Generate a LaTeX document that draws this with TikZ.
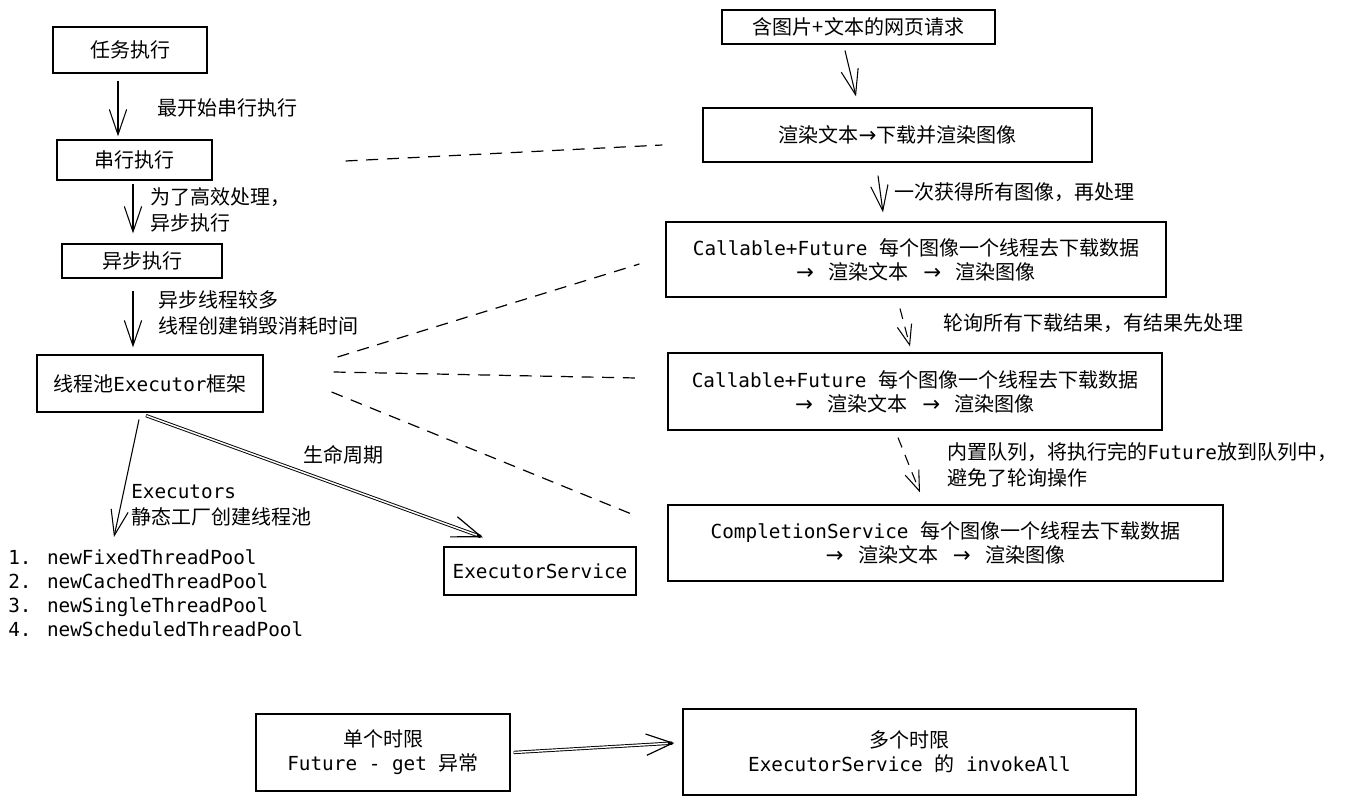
\documentclass[tikz,border=0pt]{standalone}
\usepackage{fontspec}
\setmainfont{Noto Sans CJK SC}
\newfontfamily\monofont[Scale=0.967]{DejaVu Sans Mono}
\newfontfamily\symfont{DejaVu Sans}
\newcommand\mono[1]{{\monofont #1}}
\newcommand\ra{{\symfont\fontsize{16}{18}\selectfont →}}
\newcommand\gap{\hspace{11pt}}
\usetikzlibrary{arrows.meta,calc}

\begin{document}
\begin{tikzpicture}[x=0.75pt,y=-0.75pt,
  every node/.style={font=\fontsize{15}{18}\selectfont},
  box/.style={draw, line width=0.9pt, inner sep=0pt, align=center},
  wh/.style 2 args={minimum width=#1*0.75pt, minimum height=#2*0.75pt},
  lbl/.style={anchor=west, align=left, inner sep=0pt, font=\fontsize{15}{19.5}\selectfont},
  arr/.style={line width=0.8pt, -{Straight Barb[length=19pt,width=13pt,line width=0.8pt]}},
  darr/.style={line width=0.8pt, dash pattern=on 8pt off 6pt,
    -{Straight Barb[length=15pt,width=11pt,line width=0.8pt]}},
  % a hollow (double) shaft: thick black stroke with a white core laid over it
  dblarr/.style={line width=2.5pt, -{Straight Barb[length=#1,width=16pt,line width=0.9pt]},
    postaction={draw=white, line width=1.1pt, -, shorten >=5pt, shorten <=0.4pt}},
  dblarr/.default=22pt,
  link/.style={line width=0.9pt, dash pattern=on 9pt off 6.5pt}
]
\useasboundingbox (0,0) rectangle (1347,805);

% left column: from serial execution to the Executor framework
\node[box, wh={154}{46}] (b1) at (130,50) {任务执行};
\node[box, wh={155}{40}] (b2) at (134.5,160) {串行执行};
\node[box, wh={160}{34}] (b3) at (142,261) {异步执行};
\node[box, wh={226}{57}] (b4) at (150,383.5) {线程池\mono{Executor}框架};
\node[box, wh={192}{48}] (b5) at (540,571) {\mono{ExecutorService}};
\node[anchor=north west, inner sep=0pt, align=left,
      font=\monofont\fontsize{15}{18}\selectfont] (pools) at (8,549)
  {1. newFixedThreadPool\\2. newCachedThreadPool\\3. newSingleThreadPool\\4. newScheduledThreadPool};

\draw[arr] ($(b1.south)+(-12,7)$) -- ($(b2.north)+(-16.5,-3)$);
\draw[arr] ($(b2.south)+(-1.5,3)$) -- ($(b3.north)+(-9,-10)$);
\draw[arr] ($(b3.south)+(-9,12)$) -- ($(b4.north)+(-17,-7)$);
\draw[arr] ($(b4.south)+(-11,7)$) -- ($(pools.north west)+(106,-12)$);
\draw[dblarr] ($(b4.south)+(-4,3)$) -- ($(b5.north)+(-57,-9)$);

\node[lbl] (l1) at (157,108) {最开始串行执行};
\node[lbl] (l2) at (150,210) {为了高效处理，\\异步执行};
\node[lbl] (l3) at (158,313) {异步线程较多\\线程创建销毁消耗时间};
\node[lbl] (l4) at (131,505) {\mono{Executors}\\静态工厂创建线程池};
\node (l5) at (343,455) {生命周期};

% right column: rendering a page with text and images
\node[box, wh={273}{34}] (r1) at (858.5,27) {含图片+文本的网页请求};
\node[box, wh={389}{54}] (r2) at (897.5,135) {渲染文本\ra 下载并渲染图像};
\node[box, wh={500}{75}] (r3) at (916,259.5) {\mono{Callable+Future }每个图像一个线程去下载数据\\\ra\gap 渲染文本\gap\ra\gap 渲染图像};
\node[box, wh={494}{77}] (r4) at (915,391.5) {\mono{Callable+Future }每个图像一个线程去下载数据\\\ra\gap 渲染文本\gap\ra\gap 渲染图像};
\node[box, wh={555}{76}] (r5) at (945.5,543) {\mono{CompletionService }每个图像一个线程去下载数据\\\ra\gap 渲染文本\gap\ra\gap 渲染图像};

\draw[arr] ($(r1.south)+(-13.5,6)$) -- ($(r2.north)+(-41.5,-11)$);
\draw[arr] ($(r2.south)+(-19.5,13)$) -- ($(r3.north)+(-33,-9)$);
\draw[darr] ($(r3.south)+(-16,11)$) -- ($(r4.north)+(-5,-6)$);
\draw[darr] ($(r4.south)+(-17,7)$) -- ($(r5.north)+(-25.5,-12)$);

\node[lbl] (rl1) at (894,192) {一次获得所有图像，再处理};
\node[lbl] (rl2) at (943,323) {轮询所有下载结果，有结果先处理};
\node[lbl] (rl3) at (947,465) {内置队列，将执行完的\mono{Future}放到队列中，\\避免了轮询操作};

% dashed links between the two columns
\draw[link] ($(b2.east)+(133,1)$) -- ($(r2.west)+(-40,10)$);
\draw[link] ($(b4.east)+(74,-26.5)$) -- ($(r3.west)+(-26,4.5)$);
\draw[link] ($(b4.east)+(70,-11.5)$) -- ($(r4.west)+(-31,-13.5)$);
\draw[link] ($(b4.east)+(68,8.5)$) -- ($(r5.west)+(-31,-27)$);

% bottom: timeouts
\node[box, wh={254}{77}] (s1) at (383,752.5) {单个时限\\\mono{Future - get }异常};
\node[box, wh={453}{86}] (s2) at (909.5,752) {多个时限\\\mono{ExecutorService }的\mono{ invokeAll}};
\draw[dblarr=20pt] ($(s1.east)+(3,0)$) -- ($(s2.west)+(-8,-9)$);
\end{tikzpicture}
\end{document}
